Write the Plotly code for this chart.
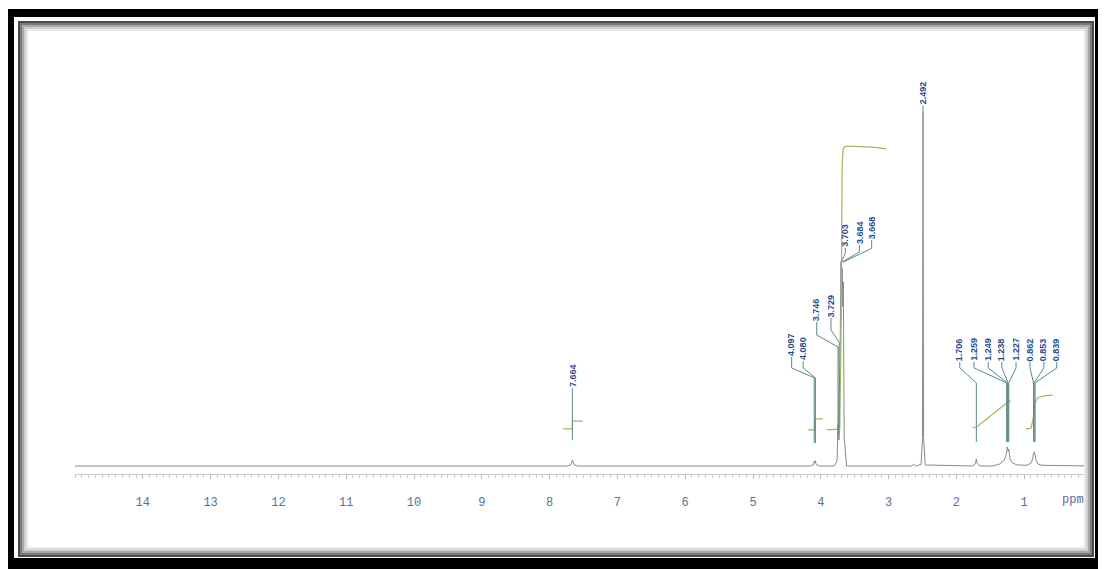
import plotly.graph_objects as go

# ---------------- data ----------------
spec_ppm = [15.0, 7.74, 7.69, 7.67, 7.664, 7.655, 7.64, 7.59,
            4.16, 4.11, 4.097, 4.089, 4.080, 4.07, 4.02,
            3.80, 3.76, 3.746, 3.738, 3.729, 3.716, 3.703, 3.694, 3.684, 3.676, 3.668, 3.655, 3.62,
            2.66, 2.63, 2.60, 2.52, 2.50, 2.492, 2.484, 2.46,
            1.76, 1.72, 1.706, 1.69, 1.65,
            1.46, 1.36, 1.30, 1.268, 1.259, 1.249, 1.238, 1.227, 1.21, 1.17, 1.10,
            0.96, 0.90, 0.875, 0.862, 0.853, 0.839, 0.825, 0.80, 0.74, 0.0]
spec_int = [0.0, 0.0, 0.3, 1.2, 1.7, 1.3, 0.4, 0.0,
            0.0, 0.3, 1.4, 1.0, 1.5, 0.4, 0.0,
            0.0, 1.5, 12.0, 9.0, 20.0, 30.0, 57.6, 50.0, 56.0, 45.0, 52.0, 8.0, 0.0,
            0.0, 0.5, 0.0, 0.5, 8.0, 100.0, 8.0, 0.3,
            0.0, 0.6, 2.0, 0.6, 0.0,
            0.0, 0.6, 1.5, 3.0, 4.0, 5.4, 4.2, 4.8, 2.0, 0.8, 0.3,
            0.2, 0.8, 2.0, 3.6, 4.0, 3.2, 1.6, 0.6, 0.2, 0.0]

# integral curves
int1_ppm = [7.80, 7.664, 7.664, 7.51]
int1_val = [10.5, 10.5, 12.7, 12.7]
int2_ppm = [4.19, 4.09, 4.09, 3.97]
int2_val = [10.2, 10.2, 13.3, 13.3]
int3_ppm = [3.91, 3.72, 3.70, 3.685, 3.67, 3.64, 3.50, 3.20, 3.03]
int3_val = [10.2, 10.4, 40.0, 85.0, 89.6, 90.3, 90.3, 90.0, 89.6]
int4_ppm = [1.76, 1.70, 1.24, 1.20]
int4_val = [10.8, 11.0, 18.1, 18.4]
int5_ppm = [0.98, 0.90, 0.87, 0.84, 0.80, 0.70, 0.58]
int5_val = [10.5, 10.7, 13.0, 18.0, 19.3, 19.8, 20.0]

# peak labels
peak_labels = ['7.664', '4.097', '4.080', '3.746', '3.729', '3.703', '3.684', '3.668',
               '2.492', '1.706', '1.259', '1.249', '1.238', '1.227', '0.862', '0.853', '0.839']

# axis ticks
tick_vals = [14, 13, 12, 11, 10, 9, 8, 7, 6, 5, 4, 3, 2, 1]
tick_text = [str(v) for v in tick_vals]

# ---------------- layout of labels (positions) ----------------
# each: label x (ppm), label bottom, elbow1, elbow2, line end
label_layout = {
    '7.664': (7.664, 22.0, 22.0, 22.0, 7.3),
    '4.097': (4.43, 30.8, 27.7, 24.9, 6.5),
    '4.080': (4.26, 29.6, 27.7, 24.9, 6.5),
    '3.746': (4.06, 40.7, 37.0, 33.6, 7.3),
    '3.729': (3.85, 41.8, 38.4, 35.0, 7.3),
    '3.703': (3.64, 61.6, 59.9, 57.6, 57.6),
    '3.684': (3.43, 62.4, 60.5, 57.6, 57.6),
    '3.668': (3.25, 63.8, 61.5, 57.6, 57.6),
    '2.492': (2.492, 101.8, 101.0, 100.5, 100.0),
    '1.706': (1.95, 29.4, 27.7, 23.5, 6.8),
    '1.259': (1.74, 29.4, 27.7, 23.5, 6.8),
    '1.249': (1.53, 29.4, 27.7, 23.5, 6.8),
    '1.238': (1.33, 29.4, 27.7, 23.5, 6.8),
    '1.227': (1.12, 29.4, 27.7, 23.5, 6.8),
    '0.862': (0.915, 29.4, 27.7, 23.5, 6.8),
    '0.853': (0.71, 29.4, 27.7, 23.5, 6.8),
    '0.839': (0.52, 29.4, 27.7, 23.5, 6.8),
}

OFF = 8  # page body margin
W, H = 1106 - OFF, 569 - OFF
# plot area in page pixels: x 75..1092, y 30..474
ML, MR = 75 - OFF, 1106 - 1092
MT, MB = 30 - OFF, (569 - OFF) - (474 - OFF)
PW, PH = W - ML - MR, H - MT - MB
PXU = 3.54  # pixels per intensity unit
Y0 = -8 / PXU
Y1 = (466 - 30) / PXU


def PX(px):
    return (px - OFF - ML) / PW


def PY(py):
    return (H - MB - (py - OFF)) / PH


fig = go.Figure()

# spectrum
fig.add_trace(go.Scatter(x=spec_ppm, y=spec_int, mode='lines',
                         line=dict(color='#8a8a8a', width=1),
                         hoverinfo='skip', showlegend=False))

# integrals
for xs, ys in [(int1_ppm, int1_val), (int2_ppm, int2_val), (int3_ppm, int3_val),
               (int4_ppm, int4_val), (int5_ppm, int5_val)]:
    fig.add_trace(go.Scatter(x=xs, y=ys, mode='lines',
                             line=dict(color='#a9b35e', width=1.2),
                             hoverinfo='skip', showlegend=False))

# connectors and labels
annotations = []
for lab in peak_labels:
    pk = float(lab)
    lx, yb, e1, e2, ye = label_layout[lab]
    fig.add_trace(go.Scatter(x=[lx, lx, pk, pk], y=[yb, e1, e2, ye], mode='lines',
                             line=dict(color='#5a8888', width=1),
                             hoverinfo='skip', showlegend=False))
    annotations.append(dict(x=lx, y=yb, xref='x', yref='y', text='<b>' + lab + '</b>',
                            textangle=-90, showarrow=False, xanchor='center', yanchor='bottom',
                            borderpad=0,
                            font=dict(family='Liberation Sans', size=9, color='#1f4a8f')))

annotations.append(dict(x=PX(1073), y=PY(500), xref='paper', yref='paper', text='ppm',
                        showarrow=False, xanchor='center', yanchor='middle',
                        font=dict(family='Liberation Mono', size=12, color='#5a6f94')))

# frame
shapes = []
black = [(5, 9, 1106, 17), (5, 558, 1106, 569), (5, 9, 14, 569), (1095, 9, 1106, 569)]
for x0, y0, x1, y1 in black:
    shapes.append(dict(type='rect', xref='paper', yref='paper',
                       x0=PX(x0), x1=PX(x1), y0=PY(y1), y1=PY(y0),
                       fillcolor='black', line=dict(width=0), layer='above'))
greys = ['#4a4a4a', '#7a7a7a', '#a8a8a8', '#cfcfcf', '#e8e8e8']
for k, c in enumerate(greys):
    d = 2 * k
    shapes.append(dict(type='rect', xref='paper', yref='paper',
                       x0=PX(19 + d), x1=PX(1093 - d), y0=PY(556 - d), y1=PY(22 + d),
                       line=dict(color=c, width=2), fillcolor='rgba(0,0,0,0)', layer='above'))

fig.update_layout(
    width=W, height=H,
    margin=dict(l=ML, r=MR, t=MT, b=MB),
    paper_bgcolor='white', plot_bgcolor='white',
    showlegend=False,
    annotations=annotations,
    shapes=shapes,
    xaxis=dict(range=[15, 0], autorange=False, tickvals=tick_vals, ticktext=tick_text,
               ticks='outside', ticklen=4, tickcolor='#b8b8b8', tickwidth=1,
               showline=True, linecolor='#c8c8c8', linewidth=1,
               showgrid=False, zeroline=False, ticklabelstandoff=13,
               tickfont=dict(family='Liberation Mono', size=12, color='#5a6f94'),
               minor=dict(dtick=0.1, ticks='outside', ticklen=3, tickcolor='#c8c8c8')),
    yaxis=dict(range=[Y0, Y1], autorange=False, visible=False, showgrid=False, zeroline=False),
)

fig.write_html('out.html')
